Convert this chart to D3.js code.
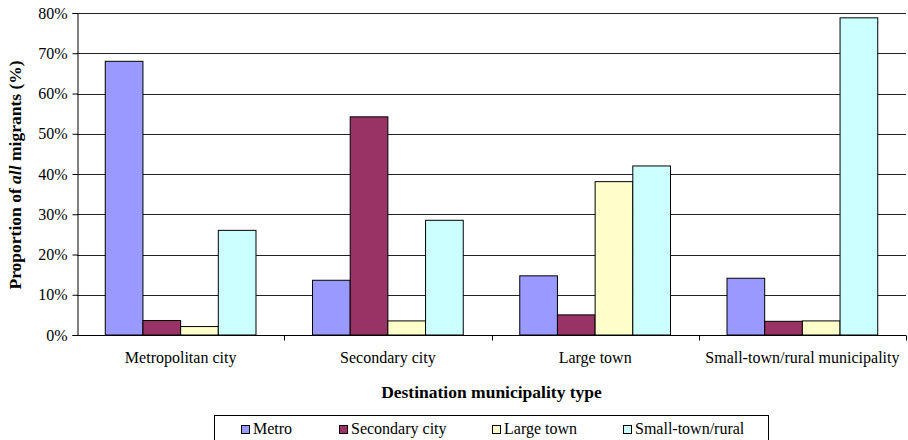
<!DOCTYPE html>
<html><head><meta charset="utf-8">
<script src="https://cdn.jsdelivr.net/npm/d3@7"></script>
<style>body{margin:0;background:#fff}svg{display:block}svg text{font-family:'Liberation Serif','Times New Roman',Times,'DejaVu Serif',serif !important;fill:#000}</style>
</head><body><svg id="c" width="908" height="440"></svg>
<script>
const categories = ["Metropolitan city","Secondary city","Large town","Small-town/rural municipality"];
const seriesNames = ["Metro","Secondary city","Large town","Small-town/rural"];
const metro = [68.0, 13.6, 14.7, 14.1];
const secondary = [3.6, 54.2, 5.0, 3.4];
const largeTown = [2.1, 3.5, 38.1, 3.5];
const smallTown = [26.0, 28.5, 42.0, 78.8];
const yTicks = [0,10,20,30,40,50,60,70,80];
const colors = ["#9999FF","#993366","#FFFFCC","#CCFFFF"];
const series = [metro, secondary, largeTown, smallTown];

const svg = d3.select("#c");
const L = 77, R = 906, T = 13, B = 335;
const x0 = d3.scaleBand().domain(categories).range([L, R]).paddingInner(0).paddingOuter(0);
const bw = x0.bandwidth();
const x1 = d3.scaleBand().domain(seriesNames).range([0, bw]).paddingOuter(0.75).paddingInner(0);
const y = d3.scaleLinear().domain([0, 80]).range([B, T]);

// gridlines
svg.append("g").selectAll("line").data(yTicks.filter(d => d > 0)).join("line")
  .attr("x1", L).attr("x2", R).attr("y1", d => Math.round(y(d)) + 0.5).attr("y2", d => Math.round(y(d)) + 0.5)
  .attr("stroke", "#222").attr("stroke-width", 1);

// bars
const g = svg.append("g");
categories.forEach((c, i) => {
  series.forEach((s, j) => {
    g.append("rect")
      .attr("x", x0(c) + x1(seriesNames[j]))
      .attr("y", y(s[i]))
      .attr("width", x1.bandwidth())
      .attr("height", B - y(s[i]))
      .attr("fill", colors[j]).attr("stroke", "#000").attr("stroke-width", 1);
  });
});

// y axis
const ya = d3.axisLeft(y).tickValues(yTicks).tickFormat(d => d + "%").tickSize(5).tickPadding(5);
const yg = svg.append("g").attr("transform", `translate(${L + 0.5},0)`).call(ya).attr("font-family", null);
yg.select(".domain").attr("stroke", "#000");
yg.selectAll("text").style("font-size", "16px");

// x axis
const xa = d3.axisBottom(x0).tickSize(0).tickPadding(16);
const xg = svg.append("g").attr("transform", `translate(0,${B + 0.5})`).call(xa).attr("font-family", null);
xg.select(".domain").attr("d", `M${L},0H${R}`).attr("stroke", "#000");
xg.selectAll("text").style("font-size", "16px");
const sepTicks = categories.map(c => x0(c) + bw);
xg.selectAll("line.sep").data(sepTicks).join("line").attr("class","sep")
  .attr("x1", d => Math.round(d) + 0.5).attr("x2", d => Math.round(d) + 0.5).attr("y1", 0).attr("y2", 5).attr("stroke", "#000");

// axis titles
svg.append("text").attr("x", (L + R) / 2).attr("y", 398).attr("text-anchor", "middle")
  .style("font-size", "17.5px").style("font-weight", "bold").text("Destination municipality type");
const yt = svg.append("text").attr("transform", `translate(21,175) rotate(-90)`)
  .attr("text-anchor", "middle").style("font-size", "17.5px").style("font-weight", "bold");
yt.append("tspan").text("Proportion of ");
yt.append("tspan").style("font-style", "italic").text("all");
yt.append("tspan").text(" migrants (%)");

// legend
const lg = svg.append("g");
lg.append("rect").attr("x", 214.5).attr("y", 415.5).attr("width", 554).attr("height", 40)
  .attr("fill", "#fff").attr("stroke", "#000");
const legX = [241, 339, 492, 623];
seriesNames.forEach((n, j) => {
  lg.append("rect").attr("x", legX[j] + 0.5).attr("y", 425.5).attr("width", 8).attr("height", 8)
    .attr("fill", colors[j]).attr("stroke", "#000");
  lg.append("text").attr("x", legX[j] + 12).attr("y", 434).style("font-size", "16px").text(n);
});
</script></body></html>
